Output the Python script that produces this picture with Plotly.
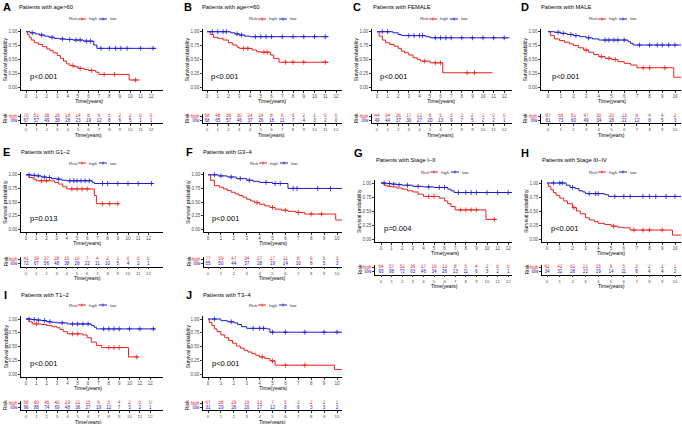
import plotly.graph_objects as go

W, H = 682, 424
RED = "#E8201C"
BLUE = "#1C1CD0"
FONT = "Liberation Sans"

# ---------------- data ----------------
A_high_t = [0, 0.15, 0.3, 0.5, 0.8, 1.2, 1.6, 2.0, 2.3, 2.6, 3.0, 3.3, 3.6, 3.9, 4.2, 4.6, 5.0, 5.6, 6.0, 6.7, 7.0, 9.9, 10.9]
A_high_s = [1, 0.95, 0.90, 0.85, 0.80, 0.77, 0.73, 0.69, 0.66, 0.62, 0.57, 0.52, 0.47, 0.42, 0.39, 0.37, 0.34, 0.32, 0.30, 0.27, 0.23, 0.13, 0.13]
A_high_c = [4.5, 5.2, 6.3, 7.5, 8.5, 10.5]
A_low_t = [0, 0.4, 0.9, 1.3, 1.8, 2.2, 2.7, 3.2, 3.8, 4.5, 5.5, 6.5, 6.8, 12.5]
A_low_s = [1, 0.98, 0.96, 0.94, 0.92, 0.90, 0.88, 0.87, 0.86, 0.85, 0.83, 0.76, 0.70, 0.70]
A_low_c = [0.6, 1.5, 2.5, 3.5, 4.2, 4.8, 5.2, 5.8, 6.2, 7.2, 8.0, 8.6, 9.1, 9.7, 11.0, 12.2]
A_risk_high = [70, 51, 38, 28, 18, 14, 8, 6, 5, 2, 2, 0, 0]
A_risk_low = [67, 57, 49, 38, 28, 23, 19, 12, 8, 6, 5, 1, 1]

B_high_t = [0, 0.3, 0.6, 1.0, 1.5, 2.0, 2.4, 2.8, 3.0, 4.2, 4.6, 5.0, 5.9, 6.2, 6.7, 11.3]
B_high_s = [1, 0.95, 0.90, 0.88, 0.85, 0.80, 0.76, 0.72, 0.70, 0.67, 0.64, 0.63, 0.58, 0.52, 0.45, 0.45]
B_high_c = [3.4, 3.8, 5.3, 5.6, 7.3, 8.0, 9.0, 11.0]
B_low_t = [0, 2.2, 2.6, 3.0, 3.5, 4.0, 11.3]
B_low_s = [1, 0.98, 0.96, 0.94, 0.92, 0.91, 0.91]
B_low_c = [0.5, 1.0, 1.5, 1.8, 2.8, 3.2, 4.5, 5.0, 5.5, 6.0, 7.0, 8.0, 9.0, 10.0, 11.0]
B_risk_high = [58, 48, 36, 30, 24, 14, 8, 6, 6, 2, 1, 0, 0]
B_risk_low = [68, 65, 57, 46, 37, 26, 18, 11, 7, 4, 3, 2, 0]

C_high_t = [0, 0.2, 0.5, 0.8, 1.2, 1.6, 2.0, 2.3, 2.6, 3.0, 3.4, 3.8, 4.1, 5.0, 6.2, 10.9]
C_high_s = [1, 0.92, 0.85, 0.80, 0.77, 0.74, 0.70, 0.65, 0.62, 0.58, 0.53, 0.50, 0.47, 0.44, 0.26, 0.26]
C_high_c = [4.5, 5.5, 6.0, 8.5, 9.2]
C_low_t = [0, 1.5, 2.0, 2.3, 4.6, 5.0, 12.5]
C_low_s = [1, 0.98, 0.95, 0.93, 0.91, 0.89, 0.89]
C_low_c = [0.5, 1.0, 3.0, 3.5, 4.0, 4.3, 5.5, 6.0, 6.5, 7.0, 8.0, 9.0, 10.0, 11.0, 12.0]
C_risk_high = [44, 34, 26, 17, 12, 8, 5, 3, 2, 2, 1, 0, 0]
C_risk_low = [49, 44, 37, 30, 27, 20, 13, 9, 7, 5, 2, 2, 1]

D_high_t = [0, 0.2, 0.5, 0.9, 1.3, 1.7, 2.0, 2.4, 2.8, 3.2, 3.6, 4.0, 4.5, 5.0, 5.5, 6.0, 6.5, 7.0, 9.9, 10.6]
D_high_s = [1, 0.93, 0.87, 0.84, 0.81, 0.78, 0.75, 0.71, 0.67, 0.63, 0.59, 0.55, 0.52, 0.50, 0.46, 0.43, 0.40, 0.35, 0.18, 0.18]
D_high_c = [3.0, 4.2, 4.8, 5.3, 7.5, 8.0, 9.2]
D_low_t = [0, 0.5, 1.0, 1.5, 2.0, 2.5, 3.0, 3.5, 4.0, 6.3, 6.5, 6.7, 10.6]
D_low_s = [1, 0.99, 0.97, 0.95, 0.93, 0.91, 0.89, 0.87, 0.85, 0.82, 0.79, 0.76, 0.76]
D_low_c = [0.8, 1.2, 1.8, 2.2, 3.2, 4.5, 4.8, 5.2, 5.5, 6.0, 7.2, 8.0, 8.6, 9.0, 9.5, 10.0]
D_risk_high = [87, 66, 51, 47, 30, 20, 13, 9, 4, 4, 2]
D_risk_low = [81, 73, 60, 49, 34, 26, 21, 12, 8, 5, 3]

E_high_t = [0, 0.3, 0.7, 1.0, 2.8, 3.2, 3.6, 4.0, 6.7, 6.9, 9.1]
E_high_s = [1, 0.95, 0.92, 0.89, 0.86, 0.83, 0.78, 0.74, 0.62, 0.47, 0.47]
E_high_c = [1.5, 2.0, 4.5, 5.0, 5.5, 6.0, 7.5, 8.2, 9.0]
E_low_t = [0, 0.5, 1.0, 1.5, 2.0, 2.5, 3.0, 3.5, 4.0, 6.5, 6.7, 12.5]
E_low_s = [1, 0.99, 0.98, 0.96, 0.95, 0.93, 0.92, 0.90, 0.89, 0.86, 0.84, 0.84]
E_low_c = [0.3, 0.8, 1.2, 1.8, 2.3, 3.2, 4.3, 4.7, 5.0, 5.4, 5.8, 6.2, 7.5, 8.0, 9.0, 10.0, 11.0, 12.3]
E_risk_high = [41, 39, 37, 28, 15, 10, 7, 4, 2, 1, 0, 0, 0]
E_risk_low = [72, 67, 56, 48, 38, 28, 22, 11, 10, 5, 4, 2, 1]

F_high_t = [0, 0.2, 0.5, 0.9, 1.2, 1.5, 1.8, 2.1, 2.4, 2.7, 3.0, 3.3, 3.6, 4.0, 4.4, 4.8, 5.2, 5.7, 6.2, 6.8, 7.5, 9.9, 10.6]
F_high_s = [1, 0.90, 0.80, 0.77, 0.74, 0.71, 0.68, 0.65, 0.62, 0.59, 0.55, 0.52, 0.49, 0.46, 0.43, 0.40, 0.37, 0.35, 0.33, 0.31, 0.28, 0.17, 0.17]
F_high_c = [3.8, 5.0, 6.0, 7.0, 8.0, 8.8]
F_low_t = [0, 0.8, 1.5, 2.2, 3.0, 3.5, 4.0, 5.0, 6.2, 10.6]
F_low_s = [1, 0.98, 0.96, 0.93, 0.90, 0.88, 0.86, 0.84, 0.75, 0.75]
F_low_c = [0.5, 1.0, 1.8, 2.5, 3.2, 4.5, 5.2, 5.6, 6.6, 6.9, 8.5, 9.5]
F_risk_high = [77, 59, 47, 34, 27, 17, 11, 8, 6, 5, 3]
F_risk_low = [55, 50, 44, 37, 28, 19, 14, 10, 8, 5, 3]

G_high_t = [0, 0.3, 0.6, 1.0, 1.5, 2.0, 2.5, 3.0, 3.5, 4.0, 5.5, 6.0, 6.3, 6.6, 7.0, 9.9, 10.9]
G_high_s = [1, 0.96, 0.94, 0.93, 0.91, 0.89, 0.86, 0.84, 0.80, 0.76, 0.73, 0.68, 0.63, 0.58, 0.52, 0.35, 0.35]
G_high_c = [4.5, 5.0, 7.5, 8.0, 8.5, 9.0, 10.7]
G_low_t = [0, 0.5, 1.0, 1.5, 2.0, 3.0, 4.0, 5.0, 6.3, 6.6, 6.9, 12.5]
G_low_s = [1, 0.99, 0.98, 0.97, 0.96, 0.94, 0.93, 0.92, 0.89, 0.86, 0.83, 0.83]
G_low_c = [0.3, 0.8, 1.2, 1.7, 2.5, 3.5, 4.5, 5.5, 6.0, 7.3, 8.0, 8.5, 9.0, 10.0, 11.0, 12.0]
G_risk_high = [64, 57, 52, 36, 27, 19, 13, 8, 5, 4, 2, 0, 0]
G_risk_low = [93, 88, 72, 63, 46, 34, 26, 13, 11, 6, 3, 2, 1]

H_high_t = [0, 0.1, 0.3, 0.5, 0.7, 1.0, 1.3, 1.6, 2.0, 2.3, 2.6, 3.0, 3.3, 3.7, 4.0, 4.5, 5.0, 5.5, 6.0, 6.5, 9.8, 10.6]
H_high_s = [1, 0.94, 0.88, 0.83, 0.78, 0.73, 0.68, 0.63, 0.56, 0.50, 0.45, 0.38, 0.34, 0.31, 0.28, 0.26, 0.23, 0.21, 0.20, 0.16, 0.07, 0.07]
H_high_c = [2.1, 5.2, 6.8, 7.5, 8.0, 9.0]
H_low_t = [0, 1.5, 1.8, 2.2, 2.5, 2.8, 3.0, 4.5, 4.8, 10.6]
H_low_s = [1, 0.96, 0.92, 0.90, 0.86, 0.84, 0.81, 0.79, 0.76, 0.76]
H_low_c = [0.5, 1.0, 1.2, 2.0, 3.3, 3.8, 4.0, 5.3, 6.0, 6.5, 7.5, 8.0, 8.5, 9.3, 10.0]
H_risk_high = [62, 42, 32, 21, 15, 9, 5, 3, 2, 2, 1]
H_risk_low = [34, 32, 28, 22, 19, 14, 11, 8, 4, 4, 2]

I_high_t = [0, 0.3, 0.6, 1.5, 2.0, 2.5, 3.0, 3.3, 3.6, 4.0, 5.5, 5.9, 6.3, 6.8, 7.3, 9.9, 10.9]
I_high_s = [1, 0.95, 0.91, 0.90, 0.88, 0.86, 0.84, 0.81, 0.77, 0.73, 0.71, 0.66, 0.58, 0.52, 0.48, 0.31, 0.31]
I_high_c = [1.0, 4.5, 5.0, 8.0, 8.5, 9.0, 10.7]
I_low_t = [0, 0.5, 1.0, 1.5, 2.0, 2.5, 3.0, 4.0, 6.3, 6.6, 6.8, 12.5]
I_low_s = [1, 0.99, 0.98, 0.97, 0.95, 0.94, 0.93, 0.91, 0.88, 0.85, 0.82, 0.82]
I_low_c = [0.3, 0.8, 1.2, 1.8, 2.3, 3.5, 4.5, 5.0, 5.5, 6.0, 7.5, 8.0, 8.5, 9.0, 10.0, 11.0, 12.3]
I_risk_high = [68, 60, 45, 40, 29, 21, 15, 9, 5, 4, 2, 0, 0]
I_risk_low = [96, 88, 74, 69, 48, 36, 27, 19, 12, 7, 3, 2, 1]

J_high_t = [0, 0.1, 0.3, 0.5, 0.7, 1.0, 1.3, 1.6, 1.9, 2.2, 2.5, 2.8, 3.1, 3.4, 3.7, 4.0, 4.4, 4.8, 5.2, 9.8, 10.6]
J_high_s = [1, 0.94, 0.88, 0.82, 0.77, 0.71, 0.66, 0.61, 0.56, 0.51, 0.47, 0.43, 0.40, 0.37, 0.34, 0.31, 0.28, 0.24, 0.16, 0.08, 0.08]
J_high_c = [4.2, 5.0, 6.0, 7.5]
J_low_t = [0, 1.0, 1.5, 2.0, 2.3, 2.6, 3.0, 4.5, 4.8, 10.6]
J_low_s = [1, 0.97, 0.95, 0.93, 0.90, 0.86, 0.83, 0.82, 0.76, 0.76]
J_low_c = [0.5, 1.8, 3.5, 4.0, 4.3, 5.0, 6.0, 7.5, 9.0, 10.0]
J_risk_high = [67, 38, 29, 19, 13, 7, 5, 3, 2, 2, 1]
J_risk_low = [31, 29, 26, 20, 17, 12, 8, 6, 3, 3, 2]

titles = ["Patients with age>60", "Patients with age<=60", "Patients with FEMALE", "Patients with MALE",
          "Patients with G1\u22122", "Patients with G3\u22124", "Patients with Stage I\u2212II",
          "Patients with Stage III\u2212IV", "Patients with T1\u22122", "Patients with T3\u22124"]
letters = ["A", "B", "C", "D", "E", "F", "G", "H", "I", "J"]
pvals = ["p<0.001", "p<0.001", "p<0.001", "p<0.001", "p=0.013", "p<0.001", "p=0.004", "p<0.001", "p<0.001", "p<0.001"]
tmax = [12, 12, 12, 10, 12, 10, 12, 10, 12, 10]

G_ = globals()
data = []
for l in letters:
    data.append(dict(ht=G_[l + "_high_t"], hs=G_[l + "_high_s"], hc=G_[l + "_high_c"],
                     lt=G_[l + "_low_t"], ls=G_[l + "_low_s"], lc=G_[l + "_low_c"],
                     rh=G_[l + "_risk_high"], rl=G_[l + "_risk_low"]))

# ---------------- layout geometry (pixels) ----------------
cols = [
    dict(L=21, z=26, s=10.42, R=163), dict(L=203, z=207, s=10.75, R=342),
    dict(L=372, z=377, s=10.6, R=512), dict(L=541, z=548, s=12.7, R=681),
    dict(L=21, z=26, s=10.2, R=163), dict(L=204, z=208, s=12.9, R=342),
    dict(L=375, z=381, s=10.6, R=512), dict(L=542, z=547, s=12.8, R=681),
    dict(L=21, z=26, s=10.35, R=163), dict(L=203, z=208, s=12.9, R=342),
]
rows = [  # y1 (1.00), y0 (0.00), risk top, risk bottom
    (31.7, 87.2, 113.5, 123.3), (31.7, 87.2, 113.5, 123.3), (31.7, 87.2, 113.5, 123.3), (31.7, 87.2, 113.5, 123.3),
    (174.8, 229.3, 256.5, 266.5), (174.8, 229.3, 256.5, 266.5),
    (183, 239, 264.5, 274.5), (183, 239, 264.5, 274.5),
    (319, 374, 400.5, 410.2), (319, 374, 400.5, 410.2),
]
heads = [  # letter x, letter y, title x, title y, legend x, legend y
    (2, 7, 18, 7, 68, 19), (183, 7, 201, 7, 248, 19), (352, 7, 372, 7, 419, 19), (520, 7, 540, 7, 588, 19),
    (2, 152, 20, 152, 68, 163), (185, 152, 202, 152, 249, 163),
    (353, 153, 375, 160, 420, 172), (520, 153, 541, 160, 588, 172),
    (3, 295, 20, 295, 68, 305), (185, 295, 202, 295, 248, 305),
]


def px(x):
    return x / W


def py(y):
    return 1 - y / H


def step_at(ts, ss, c):
    v = ss[0]
    for t, s in zip(ts, ss):
        if t <= c:
            v = s
    return v


fig = go.Figure()
layout = dict(width=W, height=H, margin=dict(l=0, r=0, t=0, b=0), showlegend=False,
              paper_bgcolor="white", plot_bgcolor="white", font=dict(family=FONT, color="black"))
annotations = []
shapes = []

axis_common = dict(showgrid=False, zeroline=False, showline=True, linecolor="black", linewidth=0.8,
                   ticks="outside", ticklen=2, tickwidth=0.7, tickcolor="#333333",
                   tickfont=dict(size=4.5, color="#4d4d4d", family=FONT), fixedrange=True)

for i in range(10):
    d = data[i]
    c = cols[i]
    y1, y0, rt, rb = rows[i]
    lx, ly, tx, ty, gx, gy = heads[i]
    km = 2 * i + 1
    kr = 2 * i + 2
    xr = [(c["L"] - c["z"]) / c["s"], (c["R"] - c["z"]) / c["s"]]
    span = y0 - y1
    top = y1 - 0.05 * span
    bot = y0 + 0.05 * span
    xa_m = "x" if km == 1 else "x%d" % km
    ya_m = "y" if km == 1 else "y%d" % km
    xa_r = "x%d" % kr
    ya_r = "y%d" % kr
    ticks = list(range(tmax[i] + 1))

    layout["xaxis" if km == 1 else "xaxis%d" % km] = dict(
        axis_common, domain=[px(c["L"]), px(c["R"])], range=xr, anchor=ya_m,
        tickvals=ticks, ticktext=[str(t) for t in ticks])
    layout["yaxis" if km == 1 else "yaxis%d" % km] = dict(
        axis_common, domain=[py(bot), py(top)], range=[-0.05, 1.05], anchor=xa_m,
        tickvals=[0, 0.25, 0.5, 0.75, 1.0], ticktext=["0.00", "0.25", "0.50", "0.75", "1.00"])
    layout["xaxis%d" % kr] = dict(
        axis_common, domain=[px(c["L"]), px(c["R"])], range=xr, anchor=ya_r,
        tickvals=ticks, ticktext=[str(t) for t in ticks],
        tickfont=dict(size=4.3, color="#4d4d4d", family=FONT))
    layout["yaxis%d" % kr] = dict(
        axis_common, domain=[py(rb), py(rt)], range=[0.4, 2.6], anchor=xa_r,
        tickvals=[2, 1], ticktext=["<span style='color:%s'>high</span>" % RED,
                                   "<span style='color:%s'>low</span>" % BLUE])

    for t, s, cens, col in [(d["ht"], d["hs"], d["hc"], RED), (d["lt"], d["ls"], d["lc"], BLUE)]:
        fig.add_trace(go.Scatter(x=t, y=s, mode="lines", line=dict(color=col, width=1, shape="hv"),
                                 xaxis=xa_m, yaxis=ya_m, hoverinfo="skip"))
        fig.add_trace(go.Scatter(x=cens, y=[step_at(t, s, cc) for cc in cens], mode="markers",
                                 marker=dict(symbol="cross-thin", size=3.5, line=dict(color=col, width=0.8)),
                                 xaxis=xa_m, yaxis=ya_m, hoverinfo="skip"))
    for vals, yy, col in [(d["rh"], 2, RED), (d["rl"], 1, BLUE)]:
        fig.add_trace(go.Scatter(x=list(range(len(vals))), y=[yy] * len(vals), mode="text",
                                 text=[str(v) for v in vals],
                                 textfont=dict(size=4.6, color=col, family=FONT),
                                 xaxis=xa_r, yaxis=ya_r, hoverinfo="skip"))

    annotations.append(dict(text="<b>%s</b>" % letters[i], x=px(lx), y=py(ly), xref="paper", yref="paper",
                            xanchor="left", yanchor="middle", showarrow=False, borderpad=0,
                            font=dict(size=11, family=FONT, color="black")))
    annotations.append(dict(text=titles[i], x=px(tx), y=py(ty), xref="paper", yref="paper",
                            xanchor="left", yanchor="middle", showarrow=False, borderpad=0,
                            font=dict(size=5.8, family=FONT, color="black")))
    annotations.append(dict(text=pvals[i], x=px(c["z"] + 2.5), y=py(y0 - 0.19 * span), xref="paper", yref="paper",
                            xanchor="left", yanchor="middle", showarrow=False, borderpad=0,
                            font=dict(size=7.5, family=FONT, color="black")))
    annotations.append(dict(text="Survival probability", x=px(c["L"] - 16), y=py((y1 + y0) / 2),
                            xref="paper", yref="paper", textangle=-90, xanchor="center", yanchor="middle",
                            showarrow=False, borderpad=0, font=dict(size=5.2, family=FONT, color="black")))
    xmid = c["z"] + tmax[i] * c["s"] / 2
    annotations.append(dict(text="Time(years)", x=px(xmid), y=py(bot + 11), xref="paper", yref="paper",
                            xanchor="center", yanchor="middle", showarrow=False, borderpad=0,
                            font=dict(size=5.3, family=FONT, color="black")))
    annotations.append(dict(text="Time(years)", x=px(xmid), y=py(rb + 11.3), xref="paper", yref="paper",
                            xanchor="center", yanchor="middle", showarrow=False, borderpad=0,
                            font=dict(size=5.0, family=FONT, color="black")))
    annotations.append(dict(text="Risk", x=px(c["L"] - 16), y=py((rt + rb) / 2), xref="paper", yref="paper",
                            textangle=-90, xanchor="center", yanchor="middle", showarrow=False, borderpad=0,
                            font=dict(size=5.2, family=FONT, color="black")))
    # legend (drawn by hand)
    annotations.append(dict(text="Risk", x=px(gx), y=py(gy), xref="paper", yref="paper", xanchor="left",
                            yanchor="middle", showarrow=False, borderpad=0,
                            font=dict(size=4.3, family=FONT, color="#333333")))
    for off, col, lab in [(10, RED, "high"), (31, BLUE, "low")]:
        shapes.append(dict(type="line", xref="paper", yref="paper", x0=px(gx + off), x1=px(gx + off + 8),
                           y0=py(gy), y1=py(gy), line=dict(color=col, width=1)))
        shapes.append(dict(type="line", xref="paper", yref="paper", x0=px(gx + off + 4), x1=px(gx + off + 4),
                           y0=py(gy - 1.5), y1=py(gy + 1.5), line=dict(color=col, width=0.8)))
        annotations.append(dict(text=lab, x=px(gx + off + 10), y=py(gy), xref="paper", yref="paper",
                                xanchor="left", yanchor="middle", showarrow=False, borderpad=0,
                                font=dict(size=4.3, family=FONT, color="#333333")))

layout["annotations"] = annotations
layout["shapes"] = shapes
fig.update_layout(**layout)
fig.write_html("out.html", config={"displayModeBar": False},
               post_script="document.body.style.margin='0px';document.body.style.overflow='hidden';")
